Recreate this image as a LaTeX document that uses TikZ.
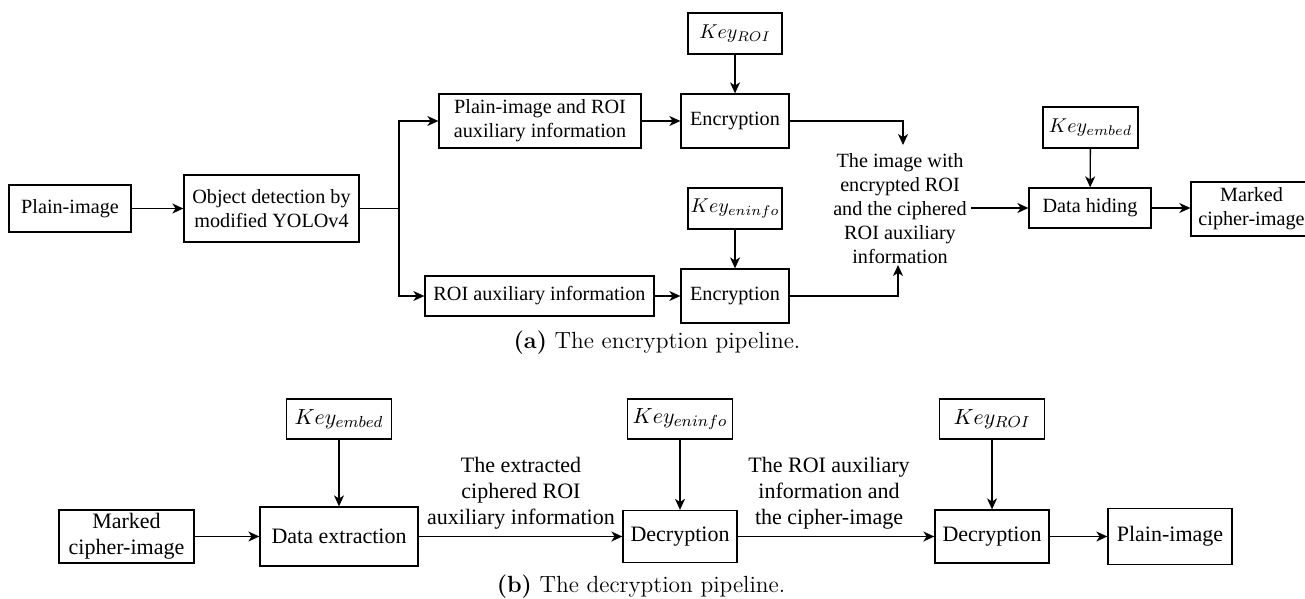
\documentclass[tikz,border=0pt]{standalone}
\usepackage{fontspec}
\newfontfamily\tnr{Liberation Serif}
\usetikzlibrary{arrows.meta}
\begin{document}
\begin{tikzpicture}[x=0.5pt,y=-0.5pt,
  line width=0.65pt,
  box/.style={draw, line width=0.65pt, inner sep=0pt, align=center, font=\tnr\fontsize{10.1}{12}\selectfont},
  boxb/.style={box, font=\tnr\fontsize{11}{13}\selectfont},
  txt/.style={align=center, inner sep=2pt, font=\tnr\fontsize{10.1}{12}\selectfont},
  txtb/.style={align=center, inner sep=2pt, font=\tnr\fontsize{11}{13}\selectfont},
  arr/.style={-{Stealth[length=5.5pt,width=5pt,inset=1.6pt]}},
  capt/.style={font=\fontsize{11.7}{14}\selectfont, inner sep=0pt}]
\useasboundingbox (0,0) rectangle (1305,599);
% ---------- (a) ----------
\node[box, minimum width=61pt, minimum height=23.5pt] (pi) at (70,208.5) {Plain-image};
\node[box, minimum width=87.5pt, minimum height=33.5pt] (od) at (271.5,208.5) {Object detection by\\modified YOLOv4};
\coordinate (br) at (399,208.5);
\node[box, minimum width=101pt, minimum height=27pt] (pr) at (540,121) {Plain-image and ROI\\auxiliary information};
\node[box, minimum width=54pt, minimum height=27pt] (enc1) at (735,121) {Encryption};
\node[box, minimum width=47pt, minimum height=20.5pt] (k1) at (735,33.5) {$Key_{ROI}$};
\node[box, minimum width=114.5pt, minimum height=20pt] (ra) at (539.5,296) {ROI auxiliary information};
\node[box, minimum width=54pt, minimum height=27pt] (enc2) at (735,296) {Encryption};
\node[box, minimum width=47pt, minimum height=20.5pt] (k2) at (735,208.5) {$Key_{eninfo}$};
\node[txt] (lbl) at (900,209) {The image with\\encrypted ROI\\and the ciphered\\ROI auxiliary\\information};
\coordinate (t1) at (903,145);
\coordinate (t2) at (898,265);
\node[box, minimum width=61pt, minimum height=20pt] (dh) at (1090,208) {Data hiding};
\node[box, minimum width=47.5pt, minimum height=20.5pt] (k3) at (1090.5,127.5) {$Key_{embed}$};
\node[box, minimum width=60.5pt, minimum height=27pt] (mk) at (1251.5,209) {Marked\\cipher-image};
\draw[arr] (pi) -- (od);
\draw (od.east) -- (br);
\draw[arr] (br) |- (pr.west);
\draw[arr] (br) |- (ra.west);
\draw[arr] (pr) -- (enc1);
\draw[arr] (ra) -- (enc2);
\draw[arr] (k1) -- (enc1);
\draw[arr] (k2) -- (enc2);
\draw[arr] (enc1.east) -| (t1);
\draw[arr] (enc2.east) -| (t2);
\draw[arr] (lbl.east |- dh.west) -- (dh.west);
\draw[arr] (k3) -- (dh);
\draw[arr] (dh.east) -- (mk.west |- dh.east);
\node[capt] (capa) at (657,343) {\textbf{(a)} The encryption pipeline.};
% ---------- (b) ----------
\node[boxb, minimum width=67.5pt, minimum height=26.5pt] (mk2) at (126.5,536.5) {Marked\\cipher-image};
\node[boxb, minimum width=79pt, minimum height=29.5pt] (de) at (339,536.5) {Data extraction};
\node[boxb, minimum width=52.5pt, minimum height=20pt] (k4) at (339,419) {$Key_{embed}$};
\node[boxb, minimum width=57pt, minimum height=26pt] (dc1) at (680,536.5) {Decryption};
\node[boxb, minimum width=52.5pt, minimum height=20pt] (k5) at (680,419) {$Key_{eninfo}$};
\node[boxb, minimum width=57pt, minimum height=26.5pt] (dc2) at (992,536.5) {Decryption};
\node[boxb, minimum width=52.5pt, minimum height=20pt] (k6) at (992,419) {$Key_{ROI}$};
\node[boxb, minimum width=62pt, minimum height=28pt] (pi2) at (1170,536.5) {Plain-image};
\node[txtb] (l2) at (521,493) {The extracted\\ciphered ROI\\auxiliary information};
\node[txtb] (l3) at (829,493) {The ROI auxiliary\\information and\\the cipher-image};
\draw[arr] (mk2) -- (de);
\draw[arr] (k4) -- (de);
\draw[arr] (de) -- (dc1);
\draw[arr] (k5) -- (dc1);
\draw[arr] (dc1) -- (dc2);
\draw[arr] (k6) -- (dc2);
\draw[arr] (dc2) -- (pi2);
\node[capt] (capb) at (641,587) {\textbf{(b)} The decryption pipeline.};
\end{tikzpicture}
\end{document}
